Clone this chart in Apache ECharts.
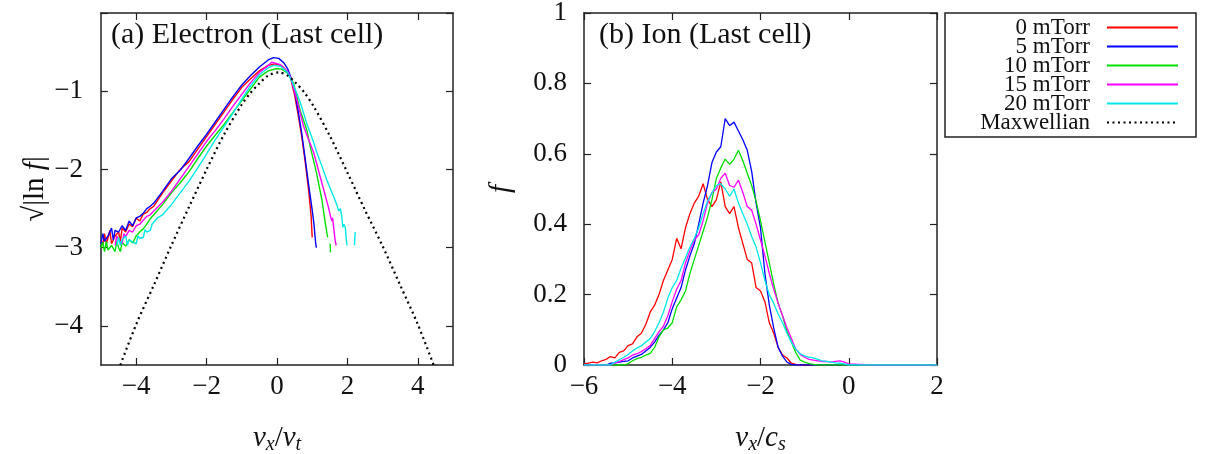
<!DOCTYPE html>
<html>
<head>
<meta charset="utf-8">
<script src="https://cdn.jsdelivr.net/npm/echarts@6/dist/echarts.min.js"></script>
<style>
html,body{margin:0;padding:0;background:#fff;}
#c{width:1206px;height:454px;}
</style>
</head>
<body>
<div id="c"></div>
<script>
// ---------------- DATA ----------------
const seriesNames = ['0 mTorr', '5 mTorr', '10 mTorr', '15 mTorr', '20 mTorr'];
const maxwellName = 'Maxwellian';

// Electron panel: [v_x/v_t, sqrt|ln f|] pairs
const elec0 = [[-5.0,-2.9],[-4.95,-2.97],[-4.9,-2.82],[-4.85,-2.95],[-4.8,-2.88],[-4.75,-2.78],[-4.7,-2.95],[-4.6,-2.85],[-4.5,-2.8],[-4.45,-2.92],[-4.4,-2.75],[-4.3,-2.8],[-4.2,-2.7],[-4.1,-2.73],[-4.0,-2.62],[-3.9,-2.66],[-3.8,-2.57],[-3.7,-2.55],[-3.6,-2.5],[-3.5,-2.47],[-3.25,-2.3],[-3.0,-2.15],[-2.75,-2.0],[-2.5,-1.9],[-2.25,-1.74],[-2.0,-1.58],[-1.75,-1.42],[-1.5,-1.26],[-1.25,-1.1],[-1.0,-0.95],[-0.75,-0.84],[-0.5,-0.74],[-0.25,-0.67],[-0.05,-0.65],[0.15,-0.68],[0.3,-0.75],[0.38,-0.82],[0.5,-1.05],[0.6,-1.3],[0.7,-1.57],[0.8,-1.9],[0.9,-2.27],[0.97,-2.6],[1.0,-2.87]];
const elec5 = [[-5.0,-2.95],[-4.95,-2.82],[-4.9,-2.92],[-4.8,-2.85],[-4.7,-2.75],[-4.65,-2.9],[-4.6,-2.78],[-4.5,-2.8],[-4.4,-2.72],[-4.3,-2.78],[-4.2,-2.66],[-4.1,-2.72],[-4.0,-2.62],[-3.9,-2.6],[-3.8,-2.56],[-3.7,-2.5],[-3.6,-2.47],[-3.5,-2.43],[-3.25,-2.28],[-3.0,-2.12],[-2.75,-2.01],[-2.5,-1.86],[-2.25,-1.7],[-2.0,-1.55],[-1.75,-1.39],[-1.5,-1.23],[-1.25,-1.07],[-1.0,-0.92],[-0.75,-0.8],[-0.5,-0.69],[-0.25,-0.6],[-0.1,-0.57],[0.05,-0.58],[0.2,-0.64],[0.3,-0.71],[0.4,-0.83],[0.5,-1.0],[0.6,-1.25],[0.7,-1.53],[0.8,-1.86],[0.9,-2.2],[1.0,-2.52],[1.05,-2.7],[1.1,-2.95],[1.12,-3.0]];
const elec10 = [[-5.0,-3.0],[-4.95,-2.93],[-4.9,-3.05],[-4.85,-2.92],[-4.8,-3.03],[-4.7,-2.97],[-4.6,-3.05],[-4.55,-2.92],[-4.5,-3.0],[-4.45,-3.05],[-4.4,-2.93],[-4.3,-2.98],[-4.2,-2.9],[-4.1,-2.94],[-4.0,-2.85],[-3.9,-2.8],[-3.8,-2.76],[-3.7,-2.7],[-3.6,-2.63],[-3.5,-2.58],[-3.25,-2.45],[-3.0,-2.3],[-2.75,-2.17],[-2.5,-2.03],[-2.25,-1.86],[-2.0,-1.7],[-1.75,-1.56],[-1.5,-1.42],[-1.25,-1.27],[-1.0,-1.12],[-0.75,-0.97],[-0.5,-0.82],[-0.25,-0.74],[0.0,-0.71],[0.15,-0.72],[0.3,-0.77],[0.47,-0.9],[0.66,-1.25],[0.85,-1.5],[0.94,-1.7],[1.13,-2.06],[1.28,-2.4],[1.37,-2.68],[1.44,-2.87],[1.47,null],[1.51,-2.95],[1.52,-3.06]];
const elec15 = [[-4.6,-2.97],[-4.55,-2.85],[-4.5,-2.9],[-4.4,-2.95],[-4.35,-2.82],[-4.3,-2.86],[-4.2,-2.78],[-4.1,-2.8],[-4.0,-2.72],[-3.9,-2.7],[-3.8,-2.65],[-3.7,-2.6],[-3.6,-2.58],[-3.5,-2.53],[-3.25,-2.42],[-3.0,-2.28],[-2.75,-2.12],[-2.5,-1.96],[-2.25,-1.8],[-2.0,-1.64],[-1.75,-1.5],[-1.5,-1.35],[-1.25,-1.19],[-1.0,-1.04],[-0.75,-0.89],[-0.5,-0.76],[-0.25,-0.67],[-0.15,-0.63],[0.1,-0.66],[0.3,-0.75],[0.4,-0.84],[0.57,-1.12],[0.75,-1.44],[0.9,-1.62],[1.04,-1.78],[1.23,-2.1],[1.37,-2.33],[1.47,-2.5],[1.52,-2.6],[1.56,-2.66],[1.58,-2.62],[1.61,-2.74],[1.65,-2.9],[1.68,-2.97]];
const elec20 = [[-4.55,-2.97],[-4.5,-2.87],[-4.45,-2.97],[-4.4,-2.9],[-4.3,-2.85],[-4.25,-2.97],[-4.2,-2.9],[-4.1,-2.93],[-4.0,-2.95],[-3.95,-2.85],[-3.9,-2.88],[-3.8,-2.87],[-3.75,-2.77],[-3.7,-2.8],[-3.6,-2.78],[-3.55,-2.7],[-3.5,-2.72],[-3.4,-2.62],[-3.25,-2.58],[-3.0,-2.45],[-2.75,-2.3],[-2.5,-2.15],[-2.25,-1.98],[-2.0,-1.8],[-1.75,-1.62],[-1.5,-1.45],[-1.25,-1.28],[-1.0,-1.1],[-0.75,-0.93],[-0.5,-0.79],[-0.25,-0.7],[-0.1,-0.67],[0.1,-0.68],[0.3,-0.76],[0.45,-0.9],[0.66,-1.14],[0.85,-1.42],[1.0,-1.6],[1.13,-1.78],[1.23,-1.9],[1.42,-2.14],[1.61,-2.35],[1.7,-2.45],[1.75,-2.53],[1.8,-2.5],[1.84,-2.6],[1.87,-2.74],[1.9,-2.7],[1.94,-2.74],[1.97,-2.9],[1.99,-2.97],[2.05,null],[2.2,-2.97],[2.22,-2.8]];
const elecMaxwell = [[-4.45,-4.5],[-4.0,-3.98],[-3.5,-3.48],[-3.0,-2.97],[-2.5,-2.48],[-2.0,-2.0],[-1.5,-1.55],[-1.0,-1.17],[-0.75,-1.02],[-0.5,-0.9],[-0.25,-0.8],[0.05,-0.76],[0.3,-0.8],[0.55,-0.9],[0.8,-1.03],[1.05,-1.2],[1.5,-1.57],[2.0,-2.04],[2.5,-2.52],[3.0,-2.98],[3.5,-3.48],[4.0,-3.98],[4.45,-4.5]];

// Ion panel: common v_x/c_s grid and f values
const ionV = [
 -6.0,-5.9,-5.8,-5.7,-5.6,-5.5,-5.4,-5.3,-5.2,-5.1,
 -5.0,-4.9,-4.8,-4.7,-4.6,-4.5,-4.4,-4.3,-4.2,-4.1,
 -4.0,-3.9,-3.8,-3.7,-3.6,-3.5,-3.4,-3.3,-3.2,-3.1,
 -3.0,-2.9,-2.8,-2.7,-2.6,-2.5,-2.4,-2.3,-2.2,-2.1,
 -2.0,-1.9,-1.8,-1.7,-1.6,-1.5,-1.4,-1.3,-1.2,-1.1,
 -1.0,-0.9,-0.8,-0.7,-0.6,-0.5,-0.4,-0.3,-0.2,-0.1,
 0.0,0.5,1.0,1.5,2.0];
const ion0 = [
 0.003,0.005,0.008,0.006,0.012,0.016,0.024,0.02,0.036,0.04,
 0.055,0.06,0.08,0.09,0.115,0.15,0.17,0.2,0.24,0.27,
 0.30,0.36,0.33,0.39,0.43,0.46,0.48,0.515,0.47,0.45,
 0.47,0.52,0.45,0.43,0.45,0.39,0.345,0.30,0.29,0.22,
 0.21,0.18,0.12,0.09,0.05,0.028,0.02,0.005,0.002,0,
 0,0,0,0,0,0,0,0,0,0,
 0,0,0,0,0];
const ion5 = [
 0,0,0,0,0,0,0.005,0.006,0.008,0.01,
 0.012,0.02,0.025,0.03,0.04,0.05,0.065,0.085,0.1,0.12,
 0.16,0.19,0.22,0.27,0.31,0.345,0.40,0.46,0.51,0.575,
 0.605,0.62,0.70,0.68,0.69,0.665,0.64,0.61,0.55,0.46,
 0.39,0.26,0.17,0.105,0.05,0.025,0.008,0.002,0,0,
 0,0,0,0,0,0,0,0,0,0,
 0,0,0,0,0];
const ion10 = [
 0,0,0,0,0,0,0,0,0,0,
 0.004,0.012,0.018,0.022,0.028,0.033,0.05,0.08,0.10,0.105,
 0.12,0.165,0.185,0.21,0.26,0.30,0.34,0.38,0.42,0.47,
 0.53,0.56,0.585,0.57,0.585,0.61,0.58,0.545,0.51,0.465,
 0.41,0.35,0.29,0.23,0.175,0.14,0.095,0.065,0.035,0.014,
 0.008,0.004,0.002,0,0,0,0,0,0,0,
 0,0,0,0,0];
const ion15 = [
 0,0,0,0,0,0,0,0.005,0.01,0.015,
 0.02,0.028,0.032,0.038,0.046,0.055,0.075,0.095,0.11,0.14,
 0.18,0.215,0.24,0.29,0.325,0.355,0.37,0.41,0.46,0.49,
 0.50,0.53,0.545,0.51,0.505,0.525,0.49,0.45,0.44,0.40,
 0.355,0.31,0.26,0.215,0.175,0.14,0.105,0.075,0.045,0.03,
 0.022,0.016,0.014,0.012,0.01,0.01,0.008,0.01,0.012,0.008,
 0.003,0,0,0,0];
const ion20 = [
 0,0,0,0,0,0,0,0.008,0.015,0.022,
 0.03,0.04,0.048,0.055,0.065,0.075,0.095,0.12,0.15,0.19,
 0.22,0.24,0.275,0.305,0.335,0.36,0.39,0.43,0.465,0.49,
 0.51,0.515,0.50,0.48,0.50,0.46,0.43,0.40,0.365,0.335,
 0.29,0.24,0.20,0.175,0.145,0.12,0.09,0.065,0.045,0.032,
 0.026,0.022,0.02,0.016,0.012,0.01,0.008,0.006,0.005,0.003,
 0,0,0,0,0];

// Tick labels
const elecXTicks = [-4, -2, 0, 2, 4];
const elecYTicks = [-4, -3, -2, -1];
const elecYTickMarks = [-4, -3, -2, -1, 0];

// ---------------- STYLE ----------------
const FONT = 'Liberation Serif';
const AX = '#222';
const colors = ['#ff0000', '#0000ff', '#00e000', '#ff00ff', '#00e8e8'];
const fmtMinus = v => String(v).replace('-', '\u2212');
const TICK_FS = 27;

function frameAxis(gridIndex, extra, showLabels, pos) {
  return Object.assign({
    type: 'value', gridIndex: gridIndex, position: pos,
    axisLine: {show: true, onZero: false, lineStyle: {color: AX, width: 1.5}},
    axisTick: {show: true, inside: true, length: 7, lineStyle: {color: AX, width: 1.2}},
    splitLine: {show: false},
    axisLabel: {show: showLabels, fontFamily: FONT, fontSize: TICK_FS, color: '#111', formatter: fmtMinus}
  }, extra);
}

const richName = {
  i: {fontFamily: FONT, fontStyle: 'italic', fontSize: 29, color: '#111'},
  r: {fontFamily: FONT, fontSize: 29, color: '#111'},
  s: {fontFamily: FONT, fontStyle: 'italic', fontSize: 20, color: '#111', padding: [14, 0, 0, 0]}
};

const xAxes = [
  frameAxis(0, {min: -5, max: 5, name: '{i|v}{s|x}{r|/}{i|v}{s|t}', nameLocation: 'middle', nameGap: 56,
    nameTextStyle: {rich: richName},
    axisTick: {show: true, inside: true, length: 7, customValues: elecXTicks, lineStyle: {color: AX, width: 1.2}},
    axisLabel: {show: true, fontFamily: FONT, fontSize: TICK_FS, color: '#111', margin: 8, formatter: fmtMinus, customValues: elecXTicks}}, true, 'bottom'),
  frameAxis(0, {min: -5, max: 5,
    axisTick: {show: true, inside: true, length: 7, customValues: elecXTicks, lineStyle: {color: AX, width: 1.2}}}, false, 'top'),
  frameAxis(1, {min: -6, max: 2, interval: 2, name: '{i|v}{s|x}{r|/}{i|c}{s|s}', nameLocation: 'middle', nameGap: 56,
    nameTextStyle: {rich: richName},
    axisLabel: {show: true, fontFamily: FONT, fontSize: TICK_FS, color: '#111', margin: 8, formatter: fmtMinus}}, true, 'bottom'),
  frameAxis(1, {min: -6, max: 2, interval: 2}, false, 'top')
];
const yAxes = [
  frameAxis(0, {min: -4.5, max: 0, name: '{r|\u221A|ln }{i|f}{r||}', nameLocation: 'middle', nameGap: 46,
    nameTextStyle: {rich: richName},
    axisTick: {show: true, inside: true, length: 7, customValues: elecYTickMarks, lineStyle: {color: AX, width: 1.2}},
    axisLabel: {show: true, fontFamily: FONT, fontSize: TICK_FS, color: '#111', margin: 18, formatter: fmtMinus, customValues: elecYTicks}}, true, 'left'),
  frameAxis(0, {min: -4.5, max: 0,
    axisTick: {show: true, inside: true, length: 7, customValues: elecYTickMarks, lineStyle: {color: AX, width: 1.2}}}, false, 'right'),
  frameAxis(1, {min: 0, max: 1, interval: 0.2, name: '{i|f}', nameLocation: 'middle', nameGap: 68,
    nameTextStyle: {rich: richName},
    axisLabel: {show: true, fontFamily: FONT, fontSize: TICK_FS, color: '#111', margin: 17}}, true, 'left'),
  frameAxis(1, {min: 0, max: 1, interval: 0.2}, false, 'right')
];

const elecSets = [elec0, elec5, elec10, elec15, elec20];
const ionSets = [ion0, ion5, ion10, ion15, ion20];

const series = [];
elecSets.forEach((d, k) => {
  series.push({type: 'line', name: seriesNames[k], xAxisIndex: 0, yAxisIndex: 0, data: d,
    showSymbol: false, symbol: 'none', connectNulls: false, clip: true,
    lineStyle: {color: colors[k], width: 1.4}, itemStyle: {color: colors[k]}, z: 2 + k});
});
series.push({type: 'line', name: maxwellName, xAxisIndex: 0, yAxisIndex: 0, data: elecMaxwell,
  showSymbol: false, symbol: 'none', smooth: 0.3, clip: true,
  lineStyle: {color: '#000', width: 2.2, type: [2, 3.5]}, itemStyle: {color: '#000'}, z: 10});
ionSets.forEach((d, k) => {
  series.push({type: 'line', name: seriesNames[k], xAxisIndex: 2, yAxisIndex: 2,
    data: ionV.map((v, i) => [v, d[i]]),
    showSymbol: false, symbol: 'none', clip: true,
    lineStyle: {color: colors[k], width: 1.3}, itemStyle: {color: colors[k]}, z: 2 + k});
});

const chart = echarts.init(document.getElementById('c'), null, {renderer: 'canvas'});
chart.setOption({
  animation: false,
  backgroundColor: '#fff',
  grid: [
    {left: 101, top: 13, width: 352, height: 352, containLabel: false, outerBoundsMode: 'none'},
    {left: 584, top: 13, width: 353, height: 352, containLabel: false, outerBoundsMode: 'none'}
  ],
  title: [
    {text: '(a) Electron (Last cell)', left: 111, top: 20, padding: 0,
     textStyle: {fontFamily: FONT, fontSize: 30, fontWeight: 'normal', color: '#111'}},
    {text: '(b) Ion (Last cell)', left: 599, top: 20, padding: 0,
     textStyle: {fontFamily: FONT, fontSize: 30, fontWeight: 'normal', color: '#111'}}
  ],
  legend: {
    orient: 'vertical', left: 945, top: 13, align: 'right',
    itemWidth: 71, itemHeight: 10, itemGap: -4,
    padding: [3, 17, 3, 25],
    borderColor: AX, borderWidth: 1.5, backgroundColor: '#fff',
    itemStyle: {opacity: 0, borderWidth: 0},
    data: seriesNames.concat([maxwellName]),
    formatter: n => '{n|' + n + '}',
    textStyle: {fontFamily: FONT, fontSize: 23, color: '#111', lineHeight: 19,
      rich: {n: {fontFamily: FONT, fontSize: 23, lineHeight: 19, width: 120, align: 'right', padding: [0, 12, 0, 0], color: '#111'}}}
  },
  xAxis: xAxes,
  yAxis: yAxes,
  series: series
});
</script>
</body>
</html>
